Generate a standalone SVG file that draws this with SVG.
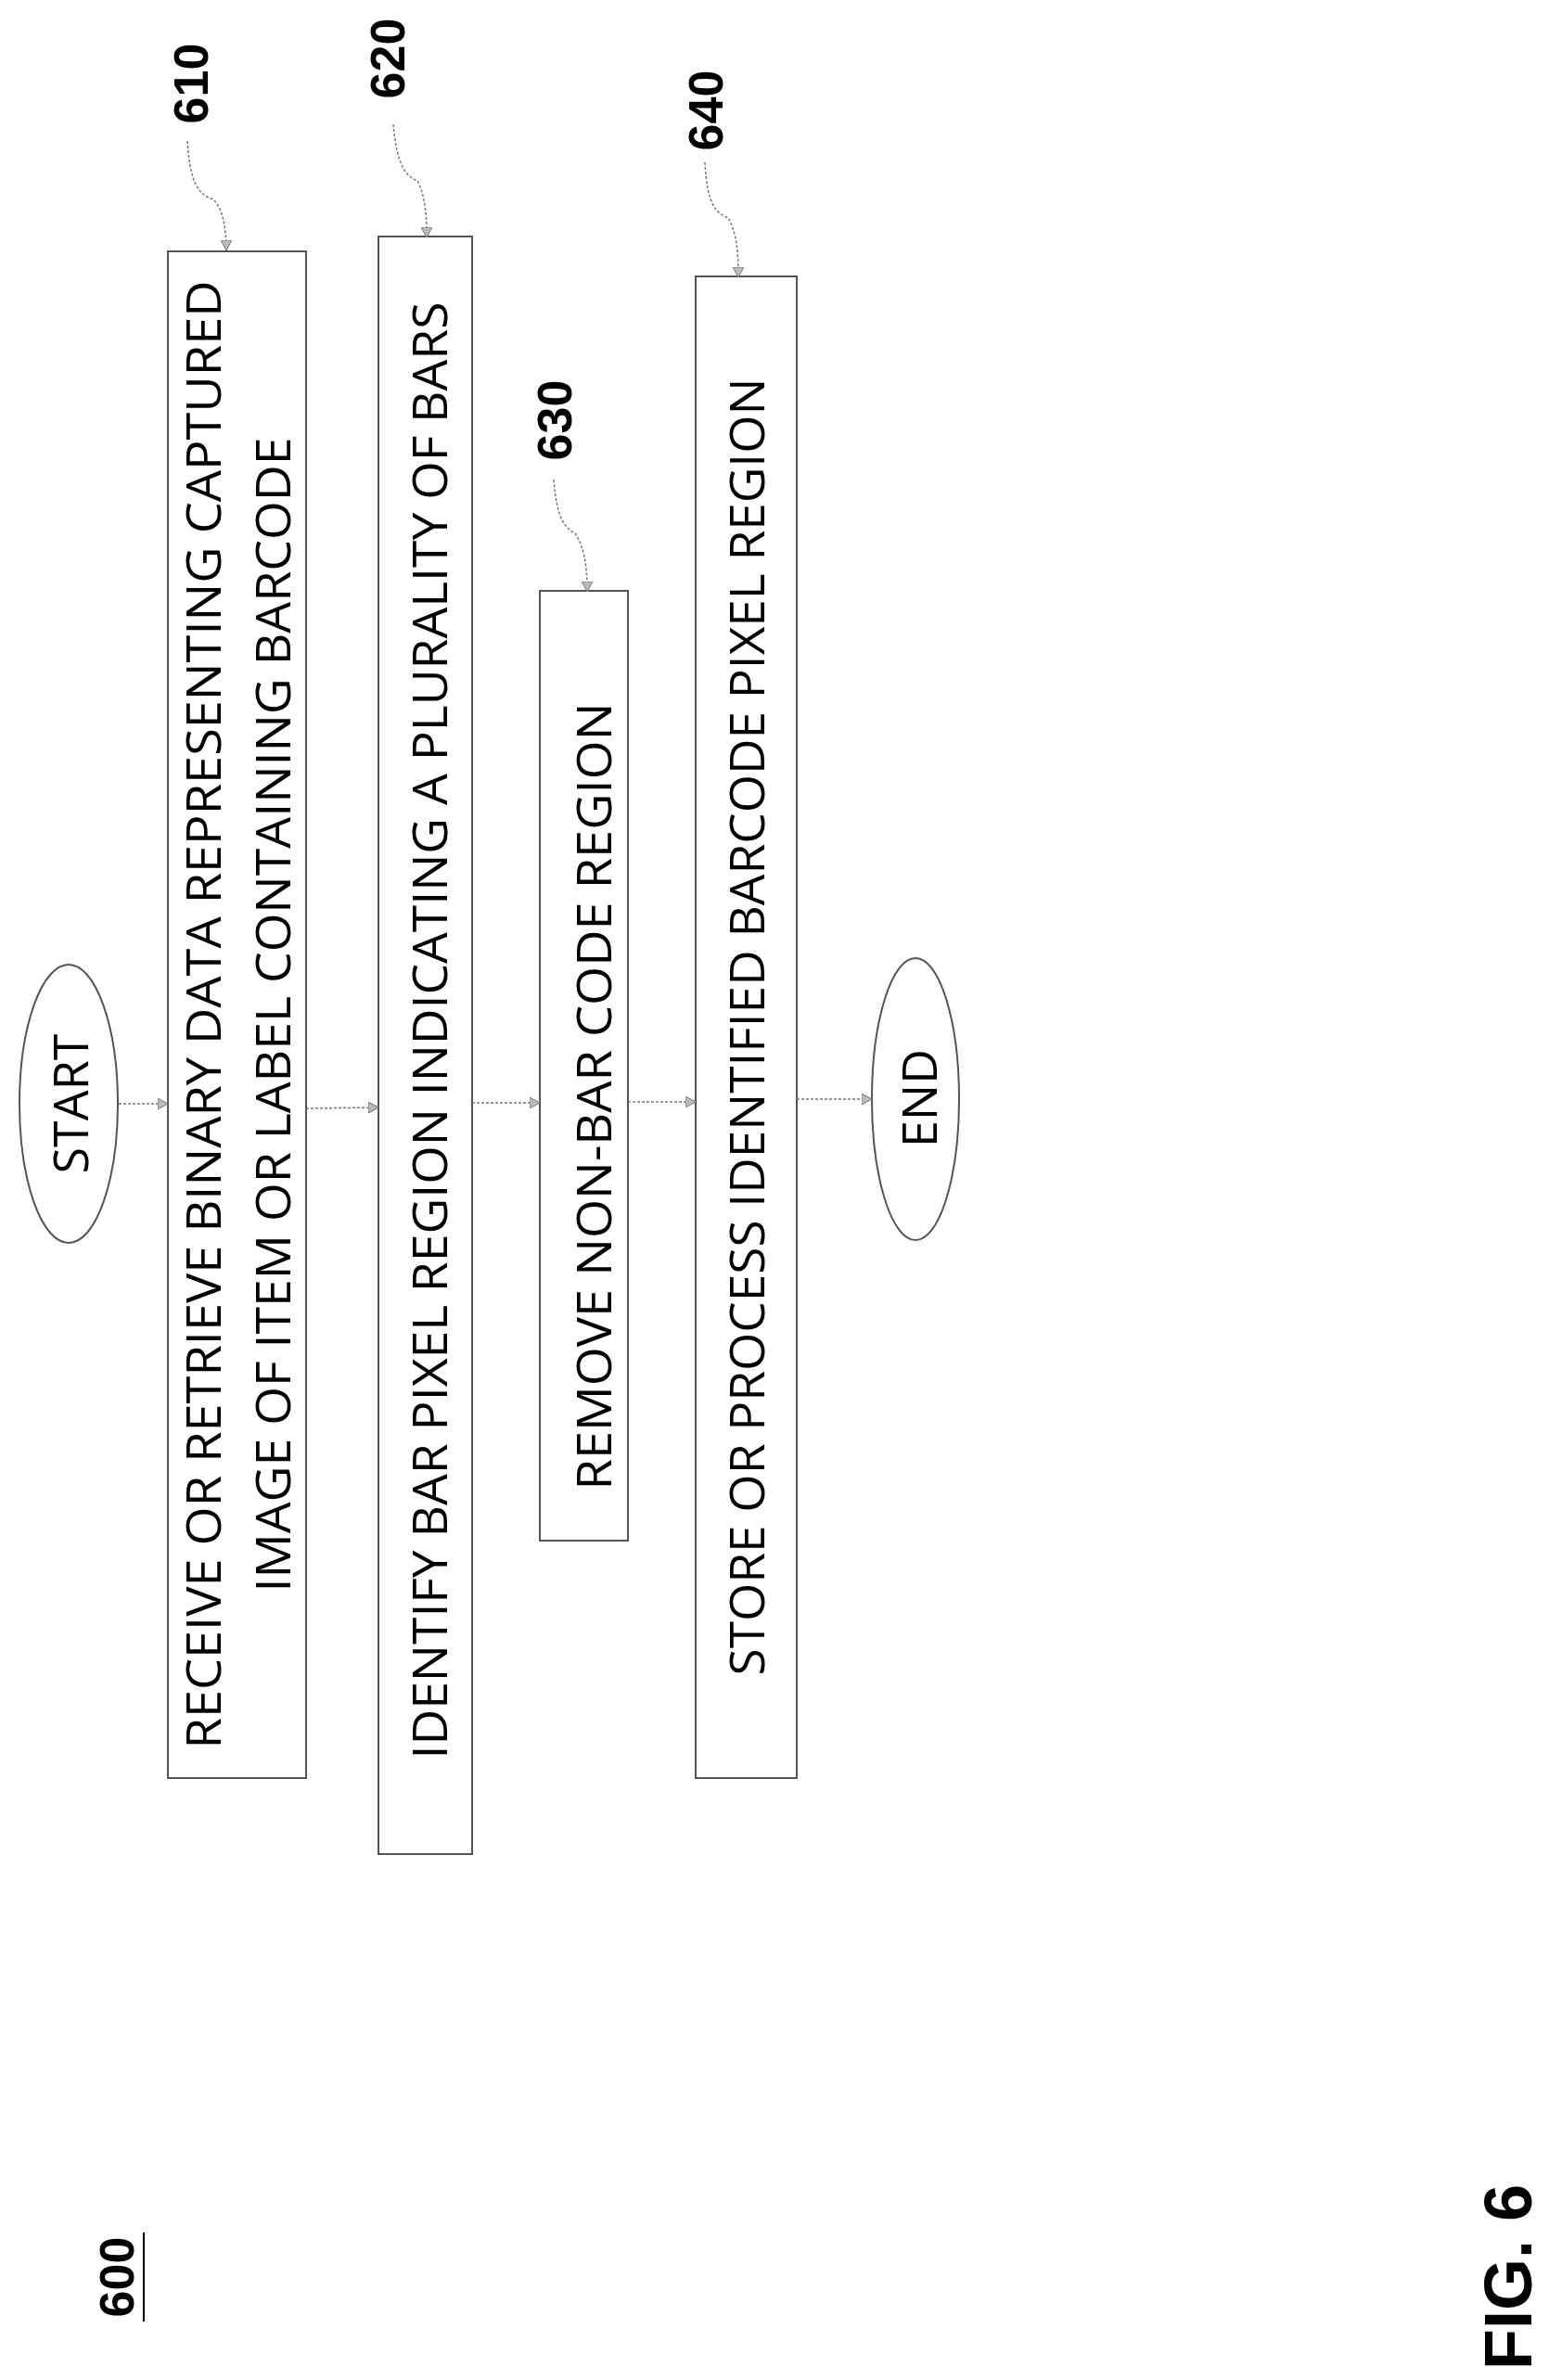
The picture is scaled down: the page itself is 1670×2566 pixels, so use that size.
<svg xmlns="http://www.w3.org/2000/svg" width="1670" height="2566" viewBox="0 0 1670 2566">
<style>
.box{fill:#fff;stroke:#555;stroke-width:2}
.t{font-family:"Open Sans","Liberation Sans",sans-serif;font-size:52px;fill:#000;text-anchor:middle}
.ref{font-family:"Liberation Sans",sans-serif;font-weight:bold;font-size:52px;fill:#000;text-anchor:middle}
.con{fill:none;stroke:#777;stroke-width:1.5;stroke-dasharray:3 2}
</style>
<defs>
<marker id="ah" markerWidth="12" markerHeight="12" refX="11" refY="6" orient="auto" markerUnits="userSpaceOnUse">
<path d="M0,0 L11,6 L0,12 Z" fill="#bbb" stroke="#777" stroke-width="1"/>
</marker>
</defs>
<rect width="1670" height="2566" fill="#fff"/>
<g id="start"><ellipse cx="74" cy="1190" rx="53" ry="150" fill="#fff" stroke="#555" stroke-width="2"/>
<text class="t" transform="translate(95,1190) rotate(-90)">START</text></g>
<g id="n610"><rect class="box" x="181" y="271" width="149" height="1646"/>
<text class="t" transform="translate(238,1094) rotate(-90)" textLength="1583" lengthAdjust="spacingAndGlyphs">RECEIVE OR RETRIEVE BINARY DATA REPRESENTING  CAPTURED</text>
<text class="t" transform="translate(313,1094) rotate(-90)" textLength="1245" lengthAdjust="spacingAndGlyphs">IMAGE OF ITEM OR LABEL CONTAINING BARCODE</text></g>
<g id="n620"><rect class="box" x="408" y="255" width="101" height="1744"/>
<text class="t" transform="translate(482,1111) rotate(-90)" textLength="1571" lengthAdjust="spacingAndGlyphs">IDENTIFY BAR PIXEL REGION INDICATING A PLURALITY OF BARS</text></g>
<g id="n630"><rect class="box" x="582" y="637" width="95" height="1024"/>
<text class="t" transform="translate(659,1182) rotate(-90)" textLength="849" lengthAdjust="spacingAndGlyphs">REMOVE NON-BAR CODE REGION</text></g>
<g id="n640"><rect class="box" x="750" y="298" width="109" height="1619"/>
<text class="t" transform="translate(824,1107) rotate(-90)" textLength="1399" lengthAdjust="spacingAndGlyphs">STORE OR PROCESS IDENTIFIED BARCODE PIXEL REGION</text></g>
<g id="end"><ellipse cx="987" cy="1185" rx="47" ry="152" fill="#fff" stroke="#555" stroke-width="2"/>
<text class="t" transform="translate(1010,1184) rotate(-90)">END</text></g>
<g id="labels">
<text class="ref" transform="translate(224,90) rotate(-90)">610</text>
<text class="ref" transform="translate(436,63) rotate(-90)">620</text>
<text class="ref" transform="translate(616,453) rotate(-90)">630</text>
<text class="ref" transform="translate(779,119) rotate(-90)">640</text>
<text class="ref" transform="translate(144,2455) rotate(-90)">600</text>
<line x1="155" y1="2407" x2="155" y2="2503" stroke="#000" stroke-width="2"/>
<text class="ref" style="font-size:72px" transform="translate(1651,2455) rotate(-90)">FIG. 6</text>
</g>
<g id="connectors">
<path class="con" d="M128,1190 L181,1190" marker-end="url(#ah)"/>
<path class="con" d="M330,1195 L408,1194" marker-end="url(#ah)"/>
<path class="con" d="M509,1189 L582,1189" marker-end="url(#ah)"/>
<path class="con" d="M677,1188 L750,1188" marker-end="url(#ah)"/>
<path class="con" d="M859,1185 L940,1185" marker-end="url(#ah)"/>
<path class="con" d="M202,152 C205,200 215,210 230,215 C240,225 244,245 244,270" marker-end="url(#ah)"/>
<path class="con" d="M424,134 C428,180 438,190 450,195 C458,210 460,230 460,256" marker-end="url(#ah)"/>
<path class="con" d="M597,517 C600,560 610,570 620,575 C630,590 633,610 633,638" marker-end="url(#ah)"/>
<path class="con" d="M760,175 C762,220 772,230 785,235 C794,250 796,270 796,299" marker-end="url(#ah)"/>
</g>
</svg>
